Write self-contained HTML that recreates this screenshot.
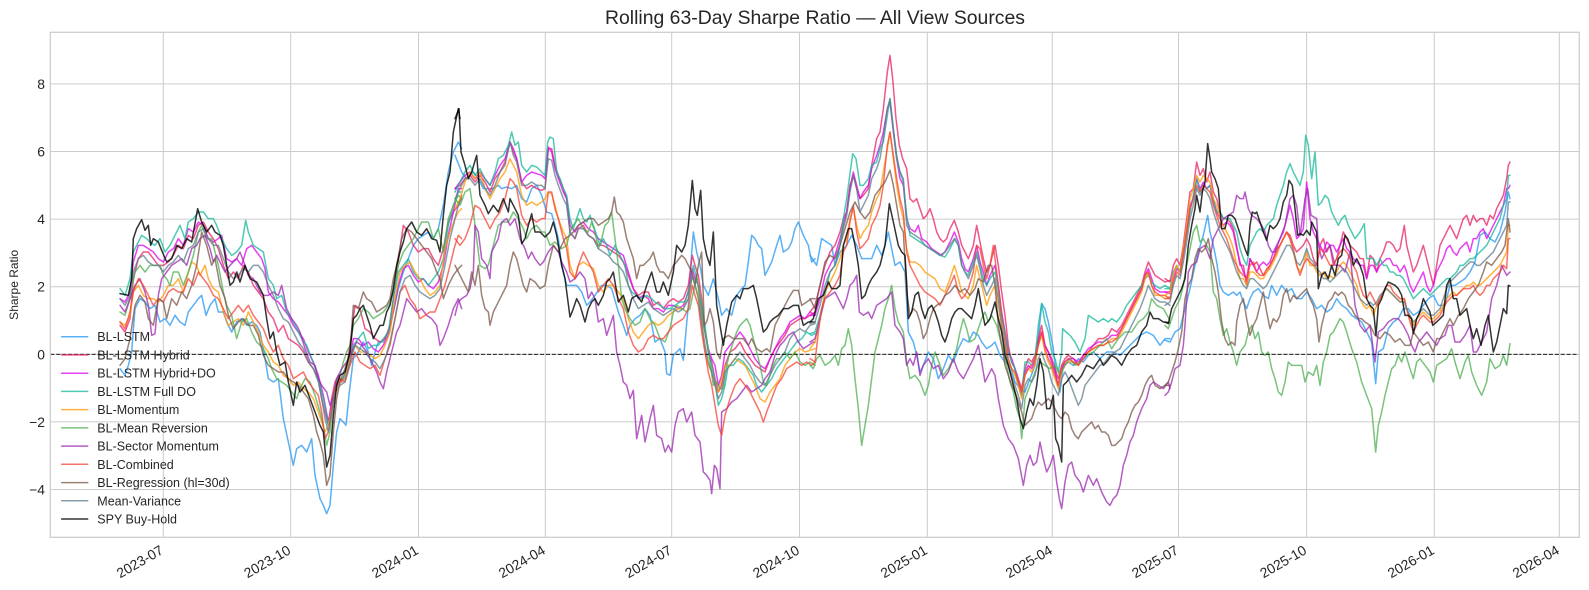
<!DOCTYPE html>
<html><head><meta charset="utf-8"><style>
html,body{margin:0;padding:0;background:#fff}
svg{display:block}
.s polyline{fill:none;stroke-width:1.5;vector-effect:non-scaling-stroke;stroke-linejoin:round;stroke-linecap:round}
.c0{stroke:#2196F3;stroke-opacity:.75}
.c1{stroke:#E91E63;stroke-opacity:.75}
.c2{stroke:#DD00EE;stroke-opacity:.75}
.c3{stroke:#11B89A;stroke-opacity:.75}
.c4{stroke:#FF9800;stroke-opacity:.75}
.c5{stroke:#4CAF50;stroke-opacity:.75}
.c6{stroke:#9C27B0;stroke-opacity:.75}
.c7{stroke:#F44336;stroke-opacity:.75}
.c8{stroke:#795548;stroke-opacity:.75}
.c9{stroke:#607D8B;stroke-opacity:.75}
.c10{stroke:#000;stroke-opacity:.8}
.t{font-family:"Liberation Sans",Arial,sans-serif;fill:#262626}
</style></head><body>
<svg width="1589" height="590" viewBox="0 0 1589 590" xmlns="http://www.w3.org/2000/svg">
<rect width="1589" height="590" fill="#fff"/>
<defs><clipPath id="cp"><rect x="50.3" y="32.3" width="1529" height="505"/></clipPath></defs>
<g stroke="#cccccc" stroke-width="1">
<line x1="50.3" x2="1579.3" y1="83.9" y2="83.9"/>
<line x1="50.3" x2="1579.3" y1="151.5" y2="151.5"/>
<line x1="50.3" x2="1579.3" y1="219.1" y2="219.1"/>
<line x1="50.3" x2="1579.3" y1="286.7" y2="286.7"/>
<line x1="50.3" x2="1579.3" y1="354.3" y2="354.3"/>
<line x1="50.3" x2="1579.3" y1="421.9" y2="421.9"/>
<line x1="50.3" x2="1579.3" y1="489.5" y2="489.5"/>
<line y1="32.3" y2="537.3" x1="163.3" x2="163.3"/>
<line y1="32.3" y2="537.3" x1="290.7" x2="290.7"/>
<line y1="32.3" y2="537.3" x1="418.5" x2="418.5"/>
<line y1="32.3" y2="537.3" x1="545.3" x2="545.3"/>
<line y1="32.3" y2="537.3" x1="671.7" x2="671.7"/>
<line y1="32.3" y2="537.3" x1="799.5" x2="799.5"/>
<line y1="32.3" y2="537.3" x1="927.3" x2="927.3"/>
<line y1="32.3" y2="537.3" x1="1052.3" x2="1052.3"/>
<line y1="32.3" y2="537.3" x1="1178.5" x2="1178.5"/>
<line y1="32.3" y2="537.3" x1="1306.6" x2="1306.6"/>
<line y1="32.3" y2="537.3" x1="1434.3" x2="1434.3"/>
<line y1="32.3" y2="537.3" x1="1559.3" x2="1559.3"/>
</g>
<g clip-path="url(#cp)">
<!-- SEGMENT 1 -->
<g class="s" transform="translate(100,32) scale(0.333333)">
<polyline class="c0" points="60,1010 75,1030 85,1000 95,960 105,830 120,800 135,810 150,830 165,820 180,870 195,860 210,880 225,850 240,870 255,880 265,840 280,820 295,800 305,790 318,850 330,820 345,800 355,840 370,840 380,870 395,900 410,870 425,860 440,880 455,870 470,880 480,900 495,980 505,1040 520,1050 535,1040 550,1160 565,1230 580,1300 590,1250 605,1240 620,1260 635,1220 645,1330 660,1400 670,1420 680,1445 690,1420 700,1300 710,1200 720,1160 730,1170 738,1180 748,1080 760,980 775,960 790,930 805,960 815,1000 825,960 835,930 850,930 865,900 880,840 895,770 910,720 925,680 940,640 955,620 970,610 985,600 1000,620 1015,590 1030,520 1045,420 1060,360 1075,330 1085,350"/>
<polyline class="c1" points="60,880 75,900 90,860 100,740 115,680 130,660 145,660 160,680 175,700 190,700 205,690 220,670 235,640 250,650 265,610 280,620 295,580 310,570 325,600 340,620 355,650 370,700 385,740 400,720 415,740 430,700 445,720 460,760 475,780 490,800 505,840 520,860 535,900 550,880 565,920 580,930 595,940 610,960 625,990 640,1010 655,1040 665,1100 675,1140 685,1180 695,1100 705,1050 715,1030 725,1050 740,1010 755,900 765,820 780,830 795,890 810,900 825,920 840,930 855,920 870,880 885,760 900,650 910,580 925,600 940,640 955,660 970,650 985,650 1000,680 1015,700 1030,650 1045,570 1060,540 1075,520 1085,490"/>
<polyline class="c2" points="60,800 75,810 90,780 100,690 115,640 130,640 145,650 160,660 175,680 190,690 205,660 220,650 235,620 250,640 265,590 280,600 295,570 310,580 325,620 340,630 355,620 365,610 380,680 395,690 410,680 425,700 440,650 455,640 470,660 485,680 495,710 505,780 520,800 535,810 550,830 565,850 580,880 595,900 610,920 625,960 640,990 655,1030 670,1090 685,1170 695,1120 705,1070 720,1050 735,1040 750,990 760,920 775,920 790,940 805,930 820,950 835,960 850,940 865,910 880,840 895,760 910,710 925,700 940,730 955,750 970,740 985,760 1000,770 1015,750 1030,700 1045,610 1060,540 1075,470 1085,470"/>
<polyline class="c3" points="60,770 75,790 90,740 100,660 110,640 125,610 140,620 150,630 165,640 180,620 195,660 210,640 225,610 240,580 255,620 265,570 280,560 295,540 310,540 325,560 340,560 350,580 365,620 380,650 395,670 410,660 425,640 437,565 445,600 460,640 475,650 490,660 505,740 520,760 530,800 545,790 560,840 575,860 590,890 605,920 620,940 635,980 650,1020 665,1080 675,1120 685,1180 695,1140 705,1060 715,1040 730,1040 745,990 760,940 775,920 790,900 805,950 820,940 835,940 850,920 865,900 880,800 895,720 910,700 925,680 940,720 955,740 970,740 985,760 1000,740 1015,720 1030,680 1045,580 1060,520 1075,480 1085,480"/>
<polyline class="c4" points="60,870 75,880 90,850 100,780 115,760 130,790 145,800 160,800 175,810 190,790 205,760 220,760 235,740 250,780 265,720 275,690 290,700 300,730 315,700 325,740 340,770 355,780 370,840 385,880 400,870 415,860 430,880 445,840 460,870 475,900 490,940 505,960 520,990 535,1000 550,1030 565,1040 580,1060 595,1050 610,1070 625,1080 640,1100 655,1140 665,1170 675,1200 685,1180 695,1130 705,1090 720,1050 735,1040 750,980 765,940 780,960 795,960 810,970 825,980 840,970 855,940 870,900 885,800 900,720 915,700 930,690 945,720 960,740 975,770 990,790 1005,780 1020,760 1035,650 1050,600 1065,560 1075,540 1085,530"/>
<polyline class="c5" points="60,840 75,850 90,800 105,720 120,700 135,720 150,700 165,700 180,700 190,730 200,740 210,760 220,720 235,720 250,760 265,720 280,670 295,600 305,580 320,620 335,620 345,660 355,700 370,780 380,820 395,850 410,920 425,870 440,860 455,900 470,930 490,950 505,980 515,1010 530,1040 545,1050 560,1060 575,1080 590,1100 600,1070 615,1040 630,1050 645,1090 660,1140 670,1180 680,1240 690,1200 700,1100 710,1050 720,1030 730,990 740,960 750,940 760,880 775,860 790,830 805,840 820,860 835,850 850,840 865,820 880,780 895,700 910,660 925,640 940,620 955,590 965,570 985,570 1000,620 1015,590 1030,660 1045,560 1060,520 1075,490 1085,500"/>
<polyline class="c6" points="60,820 75,840 90,800 105,760 120,740 135,780 145,820 155,910 165,905 175,790 185,740 200,720 215,700 230,690 245,680 260,700 275,650 290,640 300,620 315,610 330,650 340,690 350,670 365,700 375,720 390,700 400,690 410,680 420,660 435,700 445,730 460,740 470,760 480,780 490,790 505,790 520,780 535,790 545,760 560,830 575,860 590,880 600,900 615,950 630,990 645,1000 655,1040 665,1060 680,1080 690,1120 700,1090 710,1040 725,1010 740,990 755,960 770,930 785,940 800,960 815,990 830,1020 840,1050 850,1070 860,1020 870,980 880,940 890,900 900,880 910,840 920,800 935,820 950,840 965,830 980,850 995,860 1010,880 1020,940 1030,920 1045,880 1060,830 1075,800 1085,830"/>
<polyline class="c7" points="60,870 75,890 90,840 100,780 115,740 130,760 145,790 160,820 175,800 190,810 205,780 220,770 235,780 250,780 265,740 280,760 295,720 310,740 325,760 340,790 355,800 370,830 385,860 400,840 415,820 430,840 445,820 460,850 475,870 490,890 505,930 520,960 535,940 550,980 565,1000 580,1040 595,1030 610,1020 625,1050 640,1070 655,1090 665,1140 675,1220 685,1200 695,1140 705,1070 720,1040 735,1050 750,1000 765,960 780,990 795,1000 810,1010 825,1000 840,1030 855,980 870,940 885,860 900,780 915,760 930,800 945,820 960,860 975,850 990,840 1005,840 1020,800 1035,760 1050,700 1065,640 1075,610 1085,620"/>
<polyline class="c8" points="60,1000 75,980 90,920 105,820 120,790 135,810 145,860 160,880 175,800 190,810 200,860 215,800 230,820 245,780 260,800 275,760 290,700 305,600 320,640 335,700 345,680 360,760 375,800 385,850 400,890 415,870 430,860 445,880 460,880 475,910 490,970 505,1000 520,1010 535,1020 550,1020 565,1040 580,1050 595,1060 610,1080 625,1100 640,1150 650,1200 660,1230 670,1270 680,1360 690,1330 700,1200 710,1100 720,1050 735,1010 750,960 760,820 775,830 790,780 800,800 815,810 830,840 845,830 860,820 870,800 880,740 890,700 905,620 920,590 935,600 950,620 965,640 980,660 995,680 1010,720 1020,740 1030,800 1045,760 1060,730 1075,710 1085,700"/>
<polyline class="c9" points="60,800 75,820 90,790 100,720 115,680 130,670 145,690 160,700 175,700 190,720 205,700 220,690 235,670 250,690 265,650 280,640 295,600 310,590 325,620 340,640 355,640 370,680 385,720 400,740 415,730 430,710 445,720 460,700 475,700 490,720 505,760 520,790 535,830 550,860 565,870 580,900 595,930 610,950 625,990 640,1010 655,1050 665,1100 675,1160 685,1200 695,1140 705,1080 720,1060 735,1050 750,990 765,940 780,950 795,960 810,980 825,990 840,1010 855,980 870,930 885,860 900,780 915,740 930,730 945,760 960,780 975,790 990,800 1005,790 1020,770 1035,700 1050,620 1065,560 1075,520 1085,500"/>
<polyline class="c10" points="60,785 85,790 95,740 100,620 110,590 125,563 135,595 145,580 152,640 160,620 175,630 185,655 200,690 215,680 230,640 245,650 260,620 275,630 293,530 305,570 320,600 335,580 345,600 360,610 370,640 380,700 390,760 400,750 410,720 420,750 435,700 450,740 470,750 490,790 500,860 510,920 520,900 530,960 540,1000 555,990 565,1050 580,1120 590,1050 600,1080 615,1060 630,1100 645,1140 660,1180 670,1200 680,1305 690,1270 700,1150 710,1060 720,1030 735,1020 750,960 760,860 770,850 780,830 790,820 800,850 810,880 820,920 830,900 840,880 850,880 860,840 870,820 880,770 890,700 900,660 910,630 920,590 935,570 950,600 965,610 980,590 995,620 1010,625 1020,660 1030,550 1040,460 1050,420 1060,300 1075,230 1080,260"/>
</g>
<!-- SEGMENT 2 -->
<g class="s" transform="translate(455,32) scale(0.333333)">
<polyline class="c0" points="0,370 20,420 35,440 55,420 70,440 85,470 100,470 115,470 130,460 140,470 155,465 170,470 185,460 200,500 215,510 230,470 245,460 260,490 275,540 290,545 300,580 310,620 320,700 335,760 350,760 365,760 380,780 395,820 405,810 420,790 440,760 455,760 470,770 490,840 505,880 515,910 525,880 540,860 555,850 570,830 585,850 600,930 615,920 630,960 635,1025 645,1030 655,970 665,960 675,950 685,985 690,930 700,820 708,690 715,600 725,660 735,700 745,760 760,790 775,740 790,800 800,850 815,830 830,850 845,790 860,770 870,760 880,690 890,610 900,620 910,640 920,650 930,730 940,710 950,690 965,640 975,610 985,660 1000,650 1010,630 1020,590 1030,570 1045,610 1060,640 1070,690 1080,680"/>
<polyline class="c1" points="0,470 15,460 30,440 45,430 60,450 75,430 90,450 105,480 120,440 135,420 150,390 165,330 175,360 185,380 200,450 215,470 230,460 245,470 260,475 270,470 280,350 290,350 300,400 310,430 325,470 335,500 345,600 360,620 370,590 385,580 400,610 415,620 430,640 445,640 460,650 475,660 490,670 505,690 520,730 535,770 550,790 565,780 580,780 595,820 610,810 625,830 640,810 655,800 670,810 685,800 700,760 712,670 720,700 730,730 740,800 750,900 760,960 770,990 780,1040 790,1080 800,1060 810,1000 825,960 840,950 855,930 870,960 885,980 900,1000 915,1010 930,1020 945,980 960,950 975,930 990,910 1005,880 1020,870 1035,860 1050,860 1065,850 1080,840"/>
<polyline class="c2" points="0,470 15,450 30,430 45,420 60,440 75,420 90,440 105,460 120,430 135,400 150,380 165,330 175,350 185,380 200,450 215,430 230,420 245,425 260,430 270,440 280,345 290,360 300,410 310,440 325,480 335,500 345,580 360,600 370,580 385,570 400,590 415,600 430,620 445,630 460,640 475,650 490,660 505,670 520,720 535,770 550,800 565,790 580,800 595,830 610,830 625,840 640,820 655,820 670,830 685,820 700,780 712,710 720,740 730,760 740,840 750,900 760,950 770,980 780,1000 790,1060 800,1030 810,960 825,940 840,920 855,900 870,920 885,950 900,980 915,1000 930,1010 945,980 960,950 975,920 990,900 1005,870 1020,860 1035,850 1050,860 1065,840 1080,850"/>
<polyline class="c3" points="0,480 15,450 30,420 45,400 60,430 75,410 90,440 105,460 120,420 130,380 145,370 160,340 170,300 180,340 190,330 200,400 215,420 230,400 245,405 260,420 270,430 278,330 285,315 295,320 305,420 315,440 325,470 335,490 345,560 355,590 365,560 375,530 385,560 395,570 405,550 415,580 425,610 435,640 445,620 455,640 465,670 480,640 490,660 500,680 510,700 520,760 530,780 545,790 560,800 575,790 590,800 600,810 615,820 630,830 645,830 660,820 675,810 690,810 705,760 715,700 725,740 740,820 750,880 760,960 770,1000 780,1050 790,1120 800,1100 810,1060 820,1000 835,1000 850,980 865,990 880,1010 895,1030 905,1060 920,1080 935,1060 950,1040 965,1010 980,990 995,970 1010,950 1025,930 1040,920 1055,900 1070,910 1080,905"/>
<polyline class="c4" points="0,530 15,500 30,450 45,420 60,440 75,420 90,470 105,500 120,470 135,440 150,420 165,380 175,400 185,420 200,490 215,520 230,510 245,520 260,510 270,500 280,480 290,485 300,520 310,560 325,600 335,620 345,700 360,740 370,700 385,690 400,700 415,710 430,760 445,780 460,760 475,760 490,780 505,800 520,860 535,900 550,920 565,900 580,880 595,870 610,880 625,870 640,850 655,840 670,830 685,830 700,800 712,730 720,760 730,790 740,880 750,960 760,1000 770,1020 780,1060 790,1080 800,1040 810,1000 825,1000 840,980 855,990 870,1000 885,1030 900,1060 915,1100 930,1110 945,1080 960,1060 975,1040 990,1000 1005,980 1020,960 1035,950 1050,960 1065,955 1080,950"/>
<polyline class="c5" points="0,500 15,520 30,480 45,470 55,540 65,620 75,700 90,710 100,700 115,640 130,580 145,570 160,570 175,540 190,560 205,590 215,620 230,590 245,580 260,600 270,600 285,640 300,630 320,650 335,640 345,600 355,580 370,560 385,590 400,600 410,570 420,600 430,650 440,620 450,580 460,570 470,540 480,620 490,700 500,800 510,830 525,860 540,880 555,870 570,830 585,860 600,880 615,920 630,930 645,890 655,840 665,820 680,830 695,840 705,830 715,780 725,730 735,800 745,880 755,920 765,990 775,1060 785,1050 795,1070 805,1070 815,1000 825,960 835,930 845,900 855,880 865,870 875,860 885,880 895,920 905,960 915,1000 925,1050 935,1060 945,1030 955,1000 965,980 975,980 990,960 1005,980 1020,960 1035,990 1050,1000 1065,990 1080,1000"/>
<polyline class="c6" points="0,850 10,810 20,800 35,790 45,770 55,720 60,580 70,600 80,680 95,700 105,740 110,660 120,640 130,620 140,570 155,560 165,580 180,560 195,620 210,650 220,680 230,660 240,680 255,700 265,690 280,660 295,640 310,660 320,690 335,720 345,750 360,740 375,720 390,740 400,800 410,780 420,800 430,870 445,860 455,910 465,880 475,850 485,960 495,1000 505,1050 515,1060 525,1100 535,1075 545,1220 560,1150 570,1230 585,1160 595,1120 605,1210 620,1220 630,1260 640,1240 650,1260 660,1180 670,1140 685,1130 695,1170 710,1140 720,1210 735,1230 745,1320 755,1330 765,1345 770,1385 778,1300 785,1310 795,1370 800,1140 815,1130 830,1110 845,1100 860,1080 875,1060 890,1080 905,1070 920,1060 930,1040 945,1020 960,970 975,940 985,930 1000,910 1015,900 1030,930 1045,950 1060,940 1075,930 1080,930"/>
<polyline class="c7" points="0,620 15,640 30,620 45,580 60,520 75,530 90,560 105,590 120,560 135,540 150,500 165,440 175,450 185,470 200,550 215,580 230,560 245,570 260,560 270,560 280,480 290,480 300,530 310,560 325,620 335,650 345,720 360,740 370,700 385,660 400,690 415,720 430,780 445,760 460,740 475,760 490,800 505,830 520,900 535,940 550,960 565,950 580,920 595,910 610,920 625,920 640,900 655,880 670,870 685,860 700,830 712,760 720,790 730,820 740,900 750,960 760,1020 770,1060 780,1120 790,1180 800,1210 810,1150 825,1100 840,1060 855,1040 870,1060 885,1080 900,1110 915,1140 925,1170 935,1140 950,1100 965,1060 980,1040 995,1010 1010,1000 1025,990 1040,1000 1055,990 1070,1000 1080,990"/>
<polyline class="c8" points="0,700 10,720 20,740 30,760 40,780 50,720 60,760 70,700 80,790 90,830 100,840 105,880 115,840 125,820 135,800 145,780 155,760 165,700 175,660 185,680 195,720 205,760 215,780 225,740 240,750 255,770 270,760 280,700 295,640 310,660 320,640 330,620 345,610 355,600 370,580 385,570 400,560 415,560 430,580 445,570 460,560 470,540 478,495 485,540 495,550 505,570 515,620 525,650 535,680 545,740 555,700 565,700 575,690 585,680 595,660 605,700 615,720 625,720 640,740 655,700 665,690 680,670 690,680 700,700 710,720 720,760 730,700 740,660 748,880 755,870 765,830 775,870 785,960 795,980 805,920 820,910 835,920 850,920 865,920 880,940 890,920 905,950 920,960 935,950 945,960 960,880 975,850 990,820 1000,800 1015,775 1030,775 1040,820 1055,810 1070,800 1080,800"/>
<polyline class="c9" points="0,500 15,470 30,440 45,440 60,460 75,440 90,470 105,490 120,460 135,420 150,400 165,330 175,370 185,390 200,460 215,460 230,450 245,460 260,460 270,470 280,380 290,385 300,430 310,460 325,500 335,520 345,600 360,620 370,590 385,590 400,610 415,620 430,650 445,660 460,670 475,690 490,700 505,720 520,760 535,800 550,830 565,820 580,810 595,830 610,840 625,850 640,840 655,830 670,840 685,830 700,800 712,730 720,760 730,800 740,870 750,940 760,990 770,1020 780,1060 790,1100 800,1080 810,1020 825,1000 840,980 855,960 870,980 885,1000 900,1030 915,1050 930,1060 945,1030 960,1000 975,980 990,960 1005,920 1020,900 1035,890 1050,900 1065,880 1080,875"/>
<polyline class="c10" points="0,260 12,230 18,360 30,400 40,440 50,420 65,370 75,490 90,520 100,545 115,520 130,540 145,500 160,540 165,500 175,520 190,550 200,635 210,620 220,580 230,545 240,600 255,600 270,615 285,600 295,570 305,610 320,700 330,740 345,855 355,830 365,800 375,820 390,870 400,830 410,810 420,800 430,820 445,790 455,750 465,740 475,720 490,810 505,790 520,840 530,800 545,790 560,810 575,760 590,720 605,780 615,780 625,750 640,790 655,720 665,640 680,660 690,640 700,580 712,445 720,530 727,550 737,475 745,620 755,670 765,700 775,600 785,820 795,880 805,940 815,880 830,810 845,790 855,800 865,770 880,770 895,760 905,800 915,850 925,900 935,890 945,870 955,860 970,850 985,830 1000,830 1015,820 1030,820 1045,880 1060,870 1080,870"/>
</g>
<!-- SEGMENT 3 -->
<g class="s" transform="translate(810,32) scale(0.333333)">
<polyline class="c0" points="0,670 20,700 35,620 50,630 65,640 75,700 90,660 100,650 110,640 125,610 140,640 155,680 170,680 185,680 200,640 215,670 225,640 235,600 245,650 255,700 270,690 285,720 295,900 310,930 320,970 330,1020 340,1000 355,960 370,980 385,1040 400,1010 415,970 430,990 445,950 460,920 475,930 490,900 505,910 515,930 530,950 545,940 555,930 570,970 585,990 600,1000 615,1050 630,1070 645,1080 660,1040 675,1000 685,920 695,815 705,830 715,870 730,950 740,1050 750,1080 760,1000 775,990 790,1000 805,980 820,990 835,970 850,960 870,980 890,960 910,960 930,970 950,950 970,930 990,910 1010,900 1030,910 1050,940 1065,920 1080,920"/>
<polyline class="c1" points="0,840 15,820 30,760 45,700 60,660 75,640 90,600 100,560 110,540 120,460 130,430 140,470 150,500 160,490 175,470 185,400 200,320 210,300 220,230 232,120 240,70 248,140 258,260 268,340 278,380 290,410 300,500 310,510 320,500 330,530 340,560 350,550 360,530 370,560 380,600 390,620 400,630 410,620 420,590 433,565 445,600 455,640 465,660 475,680 490,640 500,580 510,630 520,680 530,720 540,700 555,640 565,700 575,780 585,850 595,940 605,990 615,1010 625,1040 635,1070 645,1010 655,980 665,990 675,970 685,920 695,880 705,940 715,960 725,980 735,1010 745,1040 755,1000 765,980 775,970 790,980 805,1000 820,970 835,960 850,940 865,920 880,920 895,910 905,890 920,900 935,880 950,850 965,820 980,790 995,760 1005,720 1015,690 1025,710 1035,730 1050,740 1065,750 1080,745"/>
<polyline class="c2" points="0,850 15,850 30,800 45,730 60,700 75,670 90,620 100,580 110,540 120,470 130,420 140,460 150,500 160,480 175,460 185,410 200,370 210,340 220,300 232,230 240,210 250,300 260,380 270,440 280,460 290,560 300,590 315,600 325,580 335,620 350,630 365,650 380,660 395,670 405,660 420,630 433,600 445,630 455,680 465,710 475,720 490,680 500,640 510,690 520,720 530,760 540,730 555,700 565,760 575,840 585,900 595,960 605,980 615,1010 625,1050 635,1090 645,1020 655,1000 665,1010 675,990 685,930 695,900 705,940 715,960 725,990 735,1020 745,1060 755,1010 765,990 775,980 790,980 805,990 820,970 835,950 850,940 865,930 880,930 895,920 905,910 920,910 935,890 950,860 965,830 980,800 995,770 1005,730 1015,710 1025,740 1035,770 1050,780 1065,780 1080,785"/>
<polyline class="c3" points="0,905 15,900 30,850 45,790 60,720 75,700 90,640 100,560 110,500 118,440 128,365 138,380 150,460 160,460 175,440 185,400 200,390 210,350 220,330 232,250 240,200 250,290 260,380 270,420 280,450 290,550 300,610 315,620 330,630 345,640 360,650 375,660 390,670 405,675 420,650 435,620 445,640 455,700 465,720 475,730 490,690 500,660 510,700 520,740 530,760 540,740 555,720 565,770 575,850 585,900 595,960 605,990 615,1010 625,1060 635,1090 645,990 655,990 665,1000 675,980 685,880 695,815 705,870 715,900 725,960 735,980 745,1020 755,960 758,890 768,900 780,910 795,930 810,960 825,920 835,850 850,860 865,870 880,860 895,870 905,860 920,870 935,850 950,820 965,800 980,780 995,760 1005,740 1015,730 1025,750 1035,760 1050,770 1065,760 1080,770"/>
<polyline class="c4" points="0,950 15,930 30,860 45,780 60,750 75,720 90,680 100,640 110,620 120,560 130,530 140,580 150,620 160,600 175,580 185,540 200,500 210,480 220,420 232,350 240,300 250,380 260,460 270,520 280,560 290,650 300,690 315,690 330,700 345,720 360,730 375,740 390,770 405,780 420,740 433,700 445,740 455,780 465,790 475,800 490,760 500,700 510,740 520,780 530,820 540,790 555,760 565,820 575,890 585,940 595,990 605,1010 615,1030 625,1060 635,1100 645,1030 655,1010 665,1020 675,1000 685,940 695,910 705,960 715,990 725,1010 735,1040 745,1070 755,1020 765,1000 775,990 790,990 805,1000 820,980 835,960 850,950 865,940 880,940 895,930 905,920 920,920 935,900 950,870 965,840 980,810 995,780 1005,740 1015,720 1025,760 1035,790 1050,790 1065,800 1080,795"/>
<polyline class="c5" points="0,1000 10,1010 20,980 30,970 45,1000 60,990 75,970 85,1000 95,950 105,940 115,890 125,940 135,1040 145,1130 155,1240 165,1180 175,1120 185,1040 195,960 205,920 215,880 225,830 235,800 245,760 255,830 265,870 280,900 290,990 300,1040 315,1030 330,1050 345,1090 355,1060 365,1000 375,960 390,1000 400,1030 415,1010 430,980 440,950 450,900 460,860 470,890 480,930 495,920 505,890 515,860 525,840 535,870 545,850 560,880 570,920 580,960 590,1000 600,1050 610,1080 620,1130 630,1160 635,1220 645,1100 660,1060 675,1020 690,990 705,1000 720,1010 735,1000 750,1030 765,1000 780,980 795,1000 810,990 830,970 850,960 870,940 890,920 905,950 925,920 945,900 965,900 985,870 1000,860 1015,840 1025,800 1040,820 1060,830 1080,865"/>
<polyline class="c6" points="0,930 15,920 30,860 45,800 60,790 75,780 90,810 100,830 110,800 120,760 130,750 140,730 148,840 160,850 175,840 185,860 200,820 215,810 230,800 245,780 255,880 270,900 280,920 290,1000 300,980 310,1000 320,960 330,1030 340,1000 355,980 370,1010 385,1000 400,1040 415,1020 430,980 445,1020 460,1040 475,1010 490,980 505,940 515,990 525,1050 535,1030 545,1010 555,1030 565,1100 580,1180 595,1220 610,1240 625,1280 640,1360 650,1300 660,1270 670,1300 680,1290 690,1230 700,1280 710,1320 720,1300 730,1270 740,1350 748,1400 755,1430 765,1350 775,1300 785,1290 795,1330 810,1350 820,1380 835,1330 850,1360 860,1340 875,1380 890,1410 900,1420 910,1400 920,1390 930,1360 940,1300 950,1270 960,1230 970,1210 980,1170 995,1130 1010,1100 1020,1060 1030,1050 1045,1060 1060,1070 1075,1050 1080,1070"/>
<polyline class="c7" points="0,980 15,990 25,900 35,830 45,800 60,780 75,760 90,730 100,660 110,640 120,570 130,520 140,600 150,650 160,640 175,620 185,580 200,550 210,520 220,460 232,340 240,300 250,370 260,440 270,500 280,540 290,660 300,700 315,730 330,760 345,780 360,790 375,800 390,820 405,790 420,760 433,730 445,780 455,800 465,790 475,770 490,720 500,640 510,650 520,700 530,740 540,700 550,640 565,760 575,850 585,920 595,980 605,1010 615,1020 625,1050 635,1080 645,1030 655,1010 665,1000 675,980 685,940 695,900 705,950 715,980 725,1000 735,1030 745,1060 755,1000 765,990 775,980 790,990 805,1000 820,980 835,960 850,950 865,940 880,940 895,930 905,930 920,920 935,890 950,860 965,830 980,800 995,770 1005,730 1015,720 1025,760 1035,780 1050,790 1065,790 1080,800"/>
<polyline class="c8" points="0,800 15,830 30,760 45,690 60,670 75,680 90,640 105,590 120,540 135,510 150,540 165,560 180,540 195,490 210,470 225,450 240,415 250,460 260,520 270,580 280,600 290,780 300,850 310,830 320,840 330,870 340,920 350,900 360,860 370,830 380,820 395,810 405,790 420,780 435,760 450,780 465,770 480,790 495,770 505,740 520,750 535,700 545,700 555,760 565,880 575,940 585,1000 595,1030 605,1060 615,1080 625,1110 635,1140 645,1180 655,1170 665,1160 675,1130 685,1110 695,1120 705,1110 715,1100 725,1110 735,1130 745,1150 755,1160 765,1140 775,1150 785,1190 795,1210 805,1220 815,1200 825,1190 835,1180 845,1170 855,1190 865,1180 875,1200 885,1200 895,1210 905,1240 915,1240 925,1230 935,1220 945,1190 955,1170 965,1140 975,1120 985,1110 995,1090 1005,1060 1015,1040 1025,1030 1035,1060 1050,1070 1065,1060 1080,1060"/>
<polyline class="c9" points="0,875 15,870 30,820 45,760 60,720 75,700 90,640 100,590 110,550 120,480 130,430 140,470 150,540 160,520 175,490 185,440 200,410 210,380 220,320 232,230 240,200 250,290 260,370 270,420 280,440 290,580 300,600 315,610 330,620 345,640 360,650 375,660 390,670 405,660 420,640 433,620 445,640 455,700 465,720 475,740 490,700 500,670 510,710 520,760 530,790 540,770 555,740 565,800 575,880 585,950 595,1000 605,1030 615,1060 625,1090 635,1130 645,1060 655,1040 665,1050 675,1030 685,980 695,960 705,990 715,1010 725,1050 735,1070 745,1090 755,1040 765,1020 775,1040 790,1080 805,1120 815,1100 825,1060 840,1040 855,1020 870,1000 885,990 900,970 915,960 930,950 945,920 960,890 975,860 990,830 1005,790 1015,760 1025,780 1035,800 1050,810 1065,810 1080,820"/>
<polyline class="c10" points="0,870 10,860 25,800 40,790 55,750 65,770 80,770 90,760 100,640 115,590 125,590 135,640 145,700 155,800 165,790 175,760 185,740 200,720 210,700 225,640 238,515 250,570 265,640 275,660 285,670 290,750 295,860 305,840 315,790 325,780 335,830 345,860 355,830 365,820 375,840 385,870 395,910 405,930 415,900 425,860 435,840 445,830 455,830 465,840 475,850 485,860 495,820 505,770 515,830 525,880 540,860 555,810 565,860 575,900 585,970 595,1000 610,1060 620,1100 630,1160 640,1190 650,1140 660,1100 670,1120 680,1060 690,980 700,1020 710,1130 720,1130 730,1090 737,1220 745,1240 755,1290 760,1060 770,1050 785,1030 800,1050 815,1030 830,1000 850,1010 870,980 880,1000 890,990 905,970 920,980 935,1000 950,970 965,950 980,940 995,900 1010,880 1020,840 1030,860 1045,860 1060,870 1080,872"/>
</g>
<!-- SEGMENT 4 -->
<g class="s" transform="translate(1165,32) scale(0.333333)">
<polyline class="c0" points="0,925 15,930 30,900 45,890 60,830 75,770 90,700 100,660 115,610 128,550 135,600 145,640 155,690 165,760 175,780 190,790 205,780 215,790 225,780 235,810 245,830 255,800 265,780 280,770 295,790 310,800 320,760 335,790 350,760 365,780 380,770 395,800 410,800 425,780 440,800 455,830 470,820 485,840 500,830 515,800 530,820 545,830 560,850 575,860 590,870 605,900 620,930 632,1055 640,960 655,950 670,890 685,870 700,860 715,830 730,830 745,850 760,840 775,820 790,800 805,790 820,820 840,820 855,760 870,760 885,750 900,740 915,720 930,690 945,610 960,600 975,620 990,630 1005,600 1020,540 1030,480 1035,500"/>
<polyline class="c1" points="0,740 15,750 25,700 35,680 45,700 55,640 65,560 75,480 85,470 95,390 105,430 115,410 125,450 135,420 145,480 155,500 165,540 175,560 185,560 195,570 205,590 215,640 225,700 235,700 245,760 255,680 265,700 275,690 285,710 295,730 305,720 315,700 325,680 335,650 345,640 355,620 365,600 375,610 385,640 395,660 405,650 415,640 425,620 435,640 445,680 455,700 465,640 475,620 485,660 495,640 505,700 515,680 525,640 535,600 545,620 555,640 565,650 575,660 585,680 595,680 605,740 615,670 625,680 635,720 645,680 655,660 665,630 675,630 685,640 695,660 705,650 718,580 725,640 735,680 745,720 755,700 765,670 775,640 785,680 795,720 805,760 815,700 825,640 835,620 845,600 855,580 865,600 875,620 885,590 895,560 905,550 915,580 925,550 935,570 945,560 955,560 965,580 975,550 985,560 995,530 1005,510 1015,490 1025,440 1030,400 1035,390"/>
<polyline class="c2" points="0,780 15,780 25,740 35,710 45,720 55,660 65,600 75,520 85,500 95,440 105,470 115,450 125,470 135,460 145,510 155,540 165,560 175,580 185,570 195,580 205,600 215,650 225,690 235,720 245,740 255,680 265,700 275,720 285,700 295,690 305,700 315,690 325,660 335,640 345,620 355,600 365,560 375,520 385,560 395,620 405,610 415,590 425,450 435,560 445,600 455,620 465,640 475,660 485,630 495,640 505,640 515,660 525,640 535,620 545,650 555,660 565,680 575,690 585,700 595,700 605,740 615,700 625,700 635,720 645,700 655,690 665,680 675,680 685,700 695,700 705,720 718,700 725,720 735,760 745,780 755,760 765,740 775,720 785,760 795,780 805,760 815,720 825,700 835,680 845,650 855,640 865,660 875,670 885,650 895,640 905,630 915,660 925,620 935,620 945,600 955,590 965,620 975,600 985,580 995,560 1005,540 1015,520 1025,470 1030,470 1035,460"/>
<polyline class="c3" points="0,770 15,770 25,720 35,700 45,720 55,660 65,600 75,540 85,490 95,440 105,480 115,460 125,470 135,460 145,500 155,540 165,540 175,560 185,560 195,560 205,580 215,600 225,650 235,680 245,700 255,640 265,620 275,600 285,590 295,600 305,580 315,570 325,560 335,520 345,490 355,460 365,420 375,395 385,420 395,440 405,460 415,420 422,310 430,340 440,440 450,360 460,520 470,510 480,490 490,500 500,540 510,560 520,580 530,560 540,550 550,580 560,600 570,620 585,600 598,575 605,680 615,680 625,680 635,700 645,680 655,700 665,700 675,720 685,720 695,730 705,730 715,740 725,760 735,780 745,800 755,790 765,780 775,770 785,780 795,790 805,780 815,770 825,760 835,750 845,740 855,740 865,730 875,720 885,700 895,700 905,690 915,680 925,680 935,670 945,660 955,650 965,640 975,620 985,600 995,580 1005,560 1015,520 1025,500 1030,430 1035,430"/>
<polyline class="c4" points="0,790 15,780 25,730 35,700 45,720 55,650 65,580 75,500 85,470 95,430 105,450 115,430 125,440 135,450 145,500 155,520 165,560 175,580 185,600 195,620 205,650 215,700 225,740 235,740 245,760 255,720 265,720 275,730 285,740 295,740 305,720 315,710 325,690 335,670 345,640 355,620 365,600 375,620 385,660 395,700 405,720 415,700 425,660 435,700 445,700 455,720 465,730 475,720 485,740 495,730 505,740 515,720 525,700 535,690 545,700 555,720 565,740 575,760 585,800 595,820 605,830 615,820 625,850 635,820 645,800 655,780 665,770 675,780 685,790 695,800 705,810 718,800 725,830 735,860 745,880 755,860 765,850 775,840 785,850 795,860 805,860 815,850 825,840 835,820 845,800 855,790 865,780 875,790 885,780 895,770 905,760 915,760 925,750 935,760 945,760 955,750 965,740 975,730 985,720 995,710 1005,700 1015,680 1025,660 1030,580 1035,580"/>
<polyline class="c5" points="0,880 10,890 20,860 30,830 45,800 55,760 65,700 75,650 85,600 95,580 105,630 115,620 125,640 135,660 145,780 155,800 165,860 175,910 185,890 195,930 205,960 215,1000 225,960 240,940 250,900 260,880 270,920 280,900 290,960 300,970 310,960 320,1010 330,1040 340,1080 350,1090 360,1050 370,990 380,1000 395,1000 410,1000 420,1050 430,1020 445,1030 455,1000 465,1060 475,990 485,960 495,910 505,900 515,880 525,860 535,870 545,900 560,950 575,990 590,1050 605,1090 620,1130 632,1260 640,1180 650,1140 660,1090 670,1050 680,1010 690,1000 700,970 710,990 720,960 735,1010 745,1040 755,990 765,980 780,1000 795,1020 805,1050 815,1000 830,990 845,980 860,950 870,990 885,1040 900,990 910,970 920,1020 935,1060 950,1090 965,1050 975,980 990,1010 1005,1000 1015,970 1025,1000 1035,935"/>
<polyline class="c6" points="0,1090 10,1080 20,1050 30,1010 45,1000 55,940 60,880 70,720 80,700 95,690 105,650 120,640 135,680 145,620 160,590 175,560 190,550 205,540 215,490 225,500 235,500 240,480 250,530 260,550 275,560 290,580 300,600 310,640 320,660 330,660 345,620 360,580 375,500 385,490 395,520 405,610 420,500 428,470 438,550 455,560 460,640 470,680 480,660 495,640 510,700 525,700 540,720 555,660 570,820 585,880 600,900 615,880 630,990 640,900 655,890 670,870 685,860 700,860 715,880 730,910 740,940 750,960 760,930 770,920 785,900 800,920 815,940 825,920 840,910 850,880 860,880 870,930 885,930 900,910 915,880 925,960 935,960 950,930 965,900 980,800 995,760 1010,700 1025,730 1035,720"/>
<polyline class="c7" points="0,800 15,800 25,750 35,720 45,730 55,670 65,600 75,530 85,500 95,460 105,480 115,460 125,470 135,480 145,520 155,550 165,580 175,600 185,620 195,650 205,680 215,700 225,720 235,730 245,740 255,700 265,690 275,720 285,730 295,730 305,710 315,700 325,680 335,660 345,640 355,620 365,600 375,620 385,650 395,700 405,730 415,700 425,680 435,690 445,700 455,700 465,650 475,660 485,680 495,700 505,700 515,680 525,660 535,650 545,660 555,680 565,700 575,720 585,760 595,790 605,800 615,780 625,800 635,820 645,800 655,780 665,760 675,760 685,780 695,790 705,800 718,800 725,830 735,870 745,900 755,880 765,860 775,850 785,860 795,870 805,870 815,860 825,850 835,830 845,810 855,800 865,790 875,790 885,780 895,770 905,770 915,770 925,760 935,780 945,790 955,780 965,760 975,760 985,740 995,730 1005,720 1015,700 1025,710 1030,620 1035,620"/>
<polyline class="c8" points="0,1060 10,1050 20,1020 30,990 40,950 50,900 60,800 70,760 80,740 90,680 100,650 110,660 120,650 130,620 140,680 150,720 160,780 170,870 180,920 190,940 200,930 210,940 215,870 225,820 235,800 245,860 255,910 265,880 275,860 285,820 295,780 305,840 315,890 325,860 335,870 345,850 355,790 365,770 375,810 385,790 395,800 405,790 415,780 425,770 435,800 445,820 455,860 462,930 470,880 480,840 490,810 500,800 510,780 520,790 530,780 540,790 550,820 560,830 570,850 580,860 590,860 600,870 615,880 630,910 645,920 660,900 675,910 690,930 705,920 720,940 735,940 745,900 760,920 775,940 790,930 805,960 815,920 825,920 835,900 845,880 855,860 865,880 880,850 895,830 910,800 925,780 940,760 955,720 965,690 980,700 995,680 1010,660 1020,640 1030,560 1035,600"/>
<polyline class="c9" points="0,820 15,810 25,760 35,730 45,740 55,690 65,630 75,560 85,520 95,470 105,490 115,470 125,480 135,500 145,540 155,570 165,600 175,620 185,640 195,660 205,690 215,720 225,740 235,760 245,770 255,740 265,740 275,750 285,760 295,770 305,760 315,740 325,720 335,700 345,680 355,660 365,640 375,640 385,660 395,690 405,700 415,680 425,650 435,680 445,690 455,710 465,720 475,740 485,740 495,750 505,740 515,730 525,720 535,710 545,720 555,740 565,760 575,780 585,800 595,810 605,820 615,810 625,820 635,810 645,790 655,780 665,770 675,780 685,790 695,800 705,810 718,810 725,830 735,850 745,870 755,860 765,840 775,830 785,840 795,850 805,850 815,840 825,830 835,800 845,770 855,750 865,740 875,730 885,720 895,710 905,700 915,690 925,690 935,700 945,700 955,690 965,680 975,670 985,660 995,640 1005,620 1015,600 1025,580 1030,510 1035,510"/>
<polyline class="c10" points="0,870 10,875 20,830 35,800 50,770 60,740 70,640 80,580 90,530 95,490 105,540 112,480 120,450 128,335 135,380 140,420 150,440 160,470 170,590 180,590 190,550 200,550 210,560 220,590 230,620 240,650 248,670 255,580 262,540 270,545 275,540 285,570 295,600 305,625 315,580 325,590 335,580 345,560 355,510 365,490 372,445 382,460 390,530 398,610 405,605 415,610 425,595 435,610 440,570 450,590 455,600 460,770 470,730 480,720 490,740 500,700 510,730 520,680 530,670 540,610 548,620 555,640 565,700 575,680 585,700 595,730 605,800 615,820 625,830 633,910 640,820 650,800 660,770 670,750 680,755 690,760 700,770 710,790 720,850 730,850 740,860 745,905 755,860 765,840 775,800 785,820 795,840 803,880 815,870 825,860 835,850 845,760 855,740 865,800 875,800 885,850 895,840 905,830 915,880 925,920 935,890 948,940 960,880 970,850 985,960 995,930 1005,880 1015,830 1025,845 1030,760 1035,762"/>
</g>
<line x1="50.3" x2="1579.3" y1="354.3" y2="354.3" stroke="#000" stroke-width="0.8" stroke-dasharray="4.1 1.8"/>
</g>
<rect x="50.3" y="32.3" width="1529" height="505" fill="none" stroke="#cccccc" stroke-width="1.25"/>
<!-- title -->
<text class="t" x="815" y="24" font-size="19.4" text-anchor="middle" fill="#222">Rolling 63-Day Sharpe Ratio — All View Sources</text>
<!-- y ticks -->
<g class="t" font-size="13.9" text-anchor="end">
<text x="45" y="88.9">8</text>
<text x="45" y="156.5">6</text>
<text x="45" y="224.1">4</text>
<text x="45" y="291.7">2</text>
<text x="45" y="359.3">0</text>
<text x="45" y="426.9">−2</text>
<text x="45" y="494.5">−4</text>
</g>
<text class="t" font-size="12" text-anchor="middle" transform="translate(18,284.8) rotate(-90)">Sharpe Ratio</text>
<!-- x ticks -->
<g class="t" font-size="13.9" text-anchor="end">
<text transform="translate(164.3,553) rotate(-30)">2023-07</text>
<text transform="translate(291.7,553) rotate(-30)">2023-10</text>
<text transform="translate(419.5,553) rotate(-30)">2024-01</text>
<text transform="translate(546.3,553) rotate(-30)">2024-04</text>
<text transform="translate(672.7,553) rotate(-30)">2024-07</text>
<text transform="translate(800.5,553) rotate(-30)">2024-10</text>
<text transform="translate(928.3,553) rotate(-30)">2025-01</text>
<text transform="translate(1053.3,553) rotate(-30)">2025-04</text>
<text transform="translate(1179.5,553) rotate(-30)">2025-07</text>
<text transform="translate(1307.6,553) rotate(-30)">2025-10</text>
<text transform="translate(1435.3,553) rotate(-30)">2026-01</text>
<text transform="translate(1560.3,553) rotate(-30)">2026-04</text>
</g>
<!-- legend -->
<g class="s">
<polyline class="c0" points="61.7,336.7 87.7,336.7"/>
<polyline class="c1" points="61.7,354.9 87.7,354.9"/>
<polyline class="c2" points="61.7,373.2 87.7,373.2"/>
<polyline class="c3" points="61.7,391.4 87.7,391.4"/>
<polyline class="c4" points="61.7,409.6 87.7,409.6"/>
<polyline class="c5" points="61.7,427.9 87.7,427.9"/>
<polyline class="c6" points="61.7,446.1 87.7,446.1"/>
<polyline class="c7" points="61.7,464.3 87.7,464.3"/>
<polyline class="c8" points="61.7,482.6 87.7,482.6"/>
<polyline class="c9" points="61.7,500.8 87.7,500.8"/>
<polyline class="c10" points="61.7,519.0 87.7,519.0"/>
</g>
<g class="t" font-size="12.5">
<text x="97.3" y="341.2">BL-LSTM</text>
<text x="97.3" y="359.4">BL-LSTM Hybrid</text>
<text x="97.3" y="377.7">BL-LSTM Hybrid+DO</text>
<text x="97.3" y="395.9">BL-LSTM Full DO</text>
<text x="97.3" y="414.1">BL-Momentum</text>
<text x="97.3" y="432.4">BL-Mean Reversion</text>
<text x="97.3" y="450.6">BL-Sector Momentum</text>
<text x="97.3" y="468.8">BL-Combined</text>
<text x="97.3" y="487.1">BL-Regression (hl=30d)</text>
<text x="97.3" y="505.3">Mean-Variance</text>
<text x="97.3" y="523.5">SPY Buy-Hold</text>
</g>
</svg>
</body></html>
